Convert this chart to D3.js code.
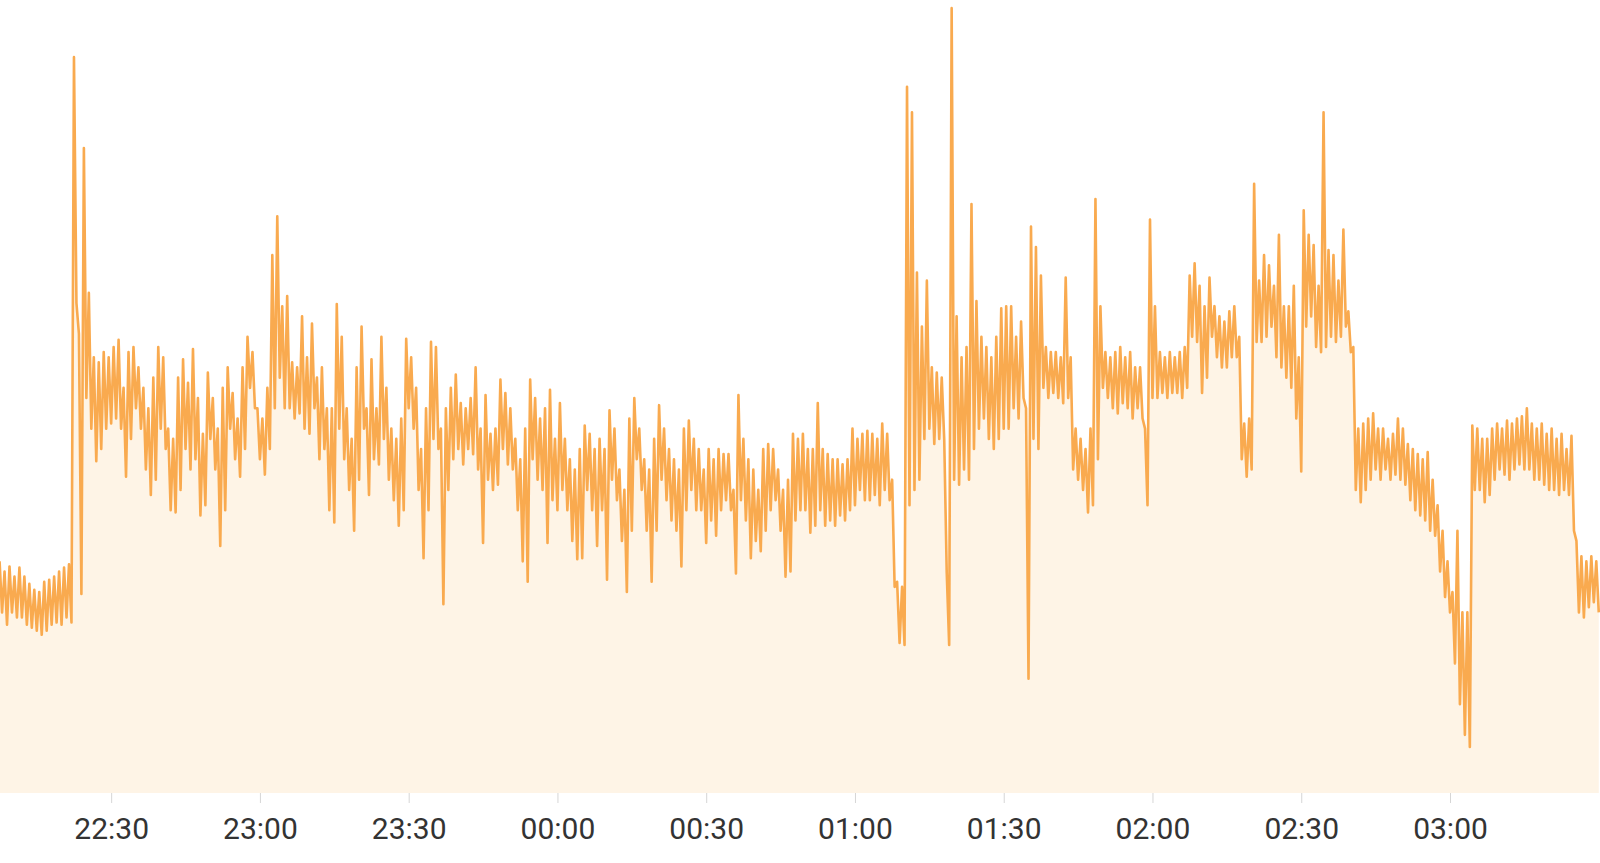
<!DOCTYPE html>
<html>
<head>
<meta charset="utf-8">
<script src="https://cdn.jsdelivr.net/npm/d3@7"></script>
<style>
  html, body { margin: 0; padding: 0; background: #ffffff; }
  svg { display: block; }
</style>
</head>
<body>
<svg id="chart" width="1600" height="863"></svg>
<script>
// ---- data ----
// one sample every 30 s, starting 22:07:30; samples alternate local high / local low
const seriesStart = "22:07:30";
const stepSeconds = 30;
const values = [
  227,177, 217,165, 222,177, 212,172, 221,172, 212,165, 205,162, 199,159, 197,155, 207,159,
  209,165, 212,167, 217,165, 221,172, 224,167, 721,480, 450,195, 632,387, 490,357, 427,325,
  422,337, 432,357, 427,362, 437,367, 444,357, 397,310, 432,347, 437,377, 417,357, 397,317,
  377,292, 407,307, 437,357, 427,337, 357,277, 347,275, 407,297, 425,337, 402,317, 435,327,
  387,272, 352,282, 412,347, 387,317, 357,242, 397,277, 417,357, 392,327, 367,310, 417,337,
  447,397, 432,377, 377,327, 367,312, 397,337, 527,377, 565,407, 477,377, 487,377, 422,367,
  417,372, 467,357, 427,352, 460,377, 407,327, 417,337, 377,277, 377,265, 479,357, 447,327,
  377,297, 347,257, 417,307, 457,357, 377,292, 425,327, 377,322, 447,347, 397,307, 357,287,
  347,262, 367,277, 445,377, 427,357, 397,297, 337,230, 377,277, 442,347, 437,337, 357,185,
  377,297, 397,327, 410,337, 382,322, 377,337, 387,332, 417,317, 357,245, 390,307, 352,297,
  357,302, 405,337, 392,322, 377,317, 347,277, 327,227, 357,207, 405,327, 387,307, 367,297,
  377,245, 395,287, 347,277, 382,297, 347,277, 327,247, 317,229, 337,230, 360,297, 352,277,
  337,242, 347,277, 337,209, 375,307, 357,287, 317,247, 297,197, 367,257, 387,327, 357,297,
  327,257, 317,207, 347,257, 380,307, 357,287, 337,267, 327,257, 317,222, 357,277, 365,297,
  347,277, 337,277, 317,245, 337,267, 327,252, 337,277, 332,287, 332,277, 297,215, 390,287,
  347,267, 327,230, 317,247, 297,237, 337,257, 342,277, 337,287, 317,257, 297,212, 307,217,
  352,267, 347,277, 352,277, 337,255, 337,262, 382,277, 337,262, 332,267, 327,262, 327,272,
  322,267, 327,277, 357,282, 347,297, 352,287, 355,287, 352,292, 347,282, 362,297, 352,287,
  307,202, 207,147, 202,145, 692,282, 667,297, 510,307, 457,347, 502,357, 417,342, 412,347,
  407,347, 217,145, 769,307, 467,302, 427,317, 437,307, 577,337, 482,357, 447,367, 437,347,
  427,337, 447,347, 475,357, 477,357, 477,377, 447,367, 462,387, 377,112, 555,347, 535,337,
  507,397, 437,387, 432,392, 432,387, 427,382, 505,387, 427,317, 357,307, 347,297, 337,275,
  357,282, 582,327, 477,397, 432,387, 427,377, 432,372, 437,382, 427,377, 432,367, 417,377,
  417,367, 357,282, 562,387, 477,387, 432,392, 427,387, 432,392, 427,392, 432,387, 437,397,
  507,447, 519,442, 497,392, 477,407, 505,447, 477,427, 467,417, 462,417, 472,427, 477,427,
  447,327, 362,310, 367,317, 597,442, 502,442, 527,447, 517,457, 497,427, 547,417, 477,407,
  477,397, 497,367, 427,315, 571,457, 547,467, 537,437, 497,432, 667,437, 532,447, 527,442,
  502,447, 552,457, 472,432, 437,297, 357,285, 362,297, 367,307, 372,317, 357,307, 357,317,
  347,307, 352,312, 367,307, 357,302, 342,287, 337,277, 332,272, 327,267, 334,257, 307,252,
  282,217, 257,192, 227,177, 197,127, 257,87, 177,57, 177,45, 360,297, 357,297, 347,285,
  347,292, 357,307, 362,317, 357,312, 365,307, 362,317, 367,322, 369,317, 377,317, 362,307,
  357,307, 362,302, 352,297, 357,297, 347,292, 352,297, 337,292, 350,257, 247,177, 232,172,
  227,182, 232,187, 227,177
];
const tickLabels = ["22:30","23:00","23:30","00:00","00:30","01:00","01:30","02:00","02:30","03:00"];
const yMax = 777;

// ---- helpers ----
function toDate(hhmmss) {
  const p = hhmmss.split(":").map(Number);
  const day = p[0] >= 12 ? 1 : 2;
  return new Date(2024, 0, day, p[0], p[1], p[2] || 0);
}
const t0 = toDate(seriesStart);
const data = values.map((v, i) => ({ t: new Date(t0.getTime() + i * stepSeconds * 1000), v }));
const tickDates = tickLabels.map(s => toDate(s));

// ---- layout ----
const W = 1600, H = 863;
const plotBottom = 793;
const svg = d3.select("#chart");

const x = d3.scaleTime()
  .domain([toDate("22:07:35"), toDate("03:30:15")])
  .range([0, W]);
const y = d3.scaleLinear().domain([0, yMax]).range([plotBottom, 0]);

const area = d3.area()
  .x(d => x(d.t))
  .y0(plotBottom)
  .y1(d => y(d.v));
const line = d3.line()
  .x(d => x(d.t))
  .y(d => y(d.v));

svg.append("path")
  .datum(data)
  .attr("d", area)
  .attr("fill", "#fef4e6")
  .attr("stroke", "none");

svg.append("path")
  .datum(data)
  .attr("d", line)
  .attr("fill", "none")
  .attr("stroke", "#f9aa4f")
  .attr("stroke-width", 2.6)
  .attr("stroke-linejoin", "round");

const fmt = d3.timeFormat("%H:%M");
const axis = d3.axisBottom(x)
  .tickValues(tickDates)
  .tickFormat(fmt)
  .tickSize(10)
  .tickPadding(15);

const gx = svg.append("g")
  .attr("transform", `translate(0,${plotBottom})`)
  .call(axis);
gx.select(".domain").remove();
gx.selectAll(".tick line").attr("stroke", "#d6d6d6").attr("stroke-width", 1);
gx.selectAll(".tick text")
  .attr("fill", "#333333")
  .style("font-family", "Roboto, 'Noto Sans', sans-serif")
  .style("font-size", "30px");
</script>
</body>
</html>
